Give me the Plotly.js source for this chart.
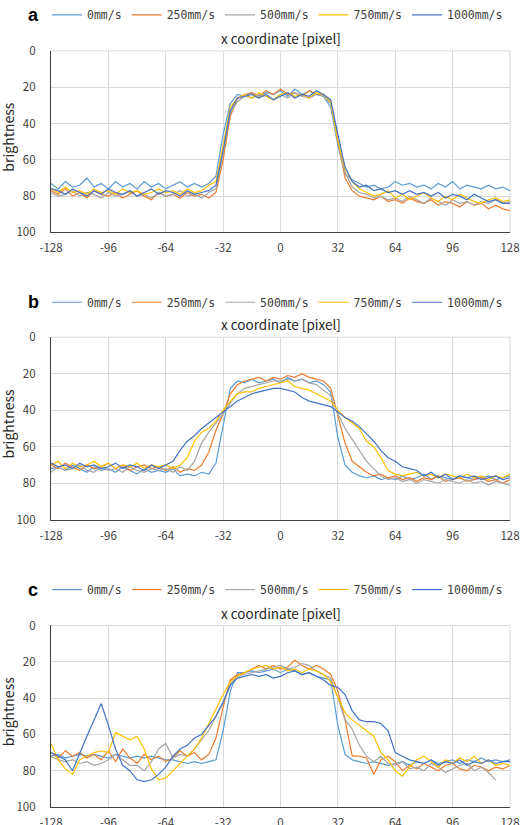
<!DOCTYPE html>
<html><head><meta charset="utf-8">
<script src="https://cdn.plot.ly/plotly-3.0.1.min.js"></script>
<style>html,body{margin:0;padding:0;background:#fff}#chart{width:520px;height:825px}</style>
</head><body><div id="chart"></div>
<script>
// x coordinate [pixel] (sampled every 4 px)
const xCoord = [
 -128,-124,-120,-116,-112,-108,-104,-100,-96,-92,-88,-84,-80,
 -76,-72,-68,-64,-60,-56,-52,-48,-44,-40,-36,-32,-28,
 -24,-20,-16,-12,-8,-4,0,4,8,12,16,20,24,
 28,32,36,40,44,48,52,56,60,64,68,72,76,
 80,84,88,92,96,100,104,108,112,116,120,124,128];

const seriesNames = ['0mm/s','250mm/s','500mm/s','750mm/s','1000mm/s'];
const seriesColors = ['#5B9BD5','#ED7D31','#A5A5A5','#FFC000','#4472C4'];
const panelLabels = ['a','b','c'];
const xTickVals = [-128,-96,-64,-32,0,32,64,96,128];
const yTickVals = [0,20,40,60,80,100];

// Panel a
const a0 = [73,76,72,75,74,70,75,73,76,72,75,73,76,
 72,75,73,76,74,72,75,73,75,73,69,46,29,
 24,25,23,25,23,24,22,25,21,24,22,24,25,
 31,52,68,71,73,75,74,76,75,72,74,73,75,
 74,76,73,75,72,76,74,75,76,74,76,75,77];
const a250 = [77,79,76,80,78,81,77,79,80,78,81,79,77,
 80,82,78,80,79,81,78,80,79,81,78,60,36,
 26,24,23,25,22,24,21,24,23,25,22,24,24,
 28,48,70,77,80,81,82,80,83,82,84,81,83,
 84,82,85,83,84,86,83,85,84,87,85,87,88];
const a500 = [78,80,79,77,80,78,79,81,78,80,79,77,80,
 79,81,78,80,79,77,80,79,81,78,76,56,34,
 28,25,26,24,25,27,24,26,23,25,26,24,25,
 29,50,67,75,78,79,81,80,82,81,83,80,82,
 84,81,83,85,82,84,83,85,83,84,82,84,83];
const a750 = [76,78,75,78,77,79,76,78,77,79,76,78,77,
 79,78,76,78,77,79,76,78,77,74,72,52,31,
 26,24,26,23,25,27,24,23,25,24,26,23,24,
 28,50,65,72,76,78,80,79,77,81,79,82,80,
 78,81,83,80,82,79,81,83,84,82,81,83,82];
const a1000 = [76,77,79,76,78,80,77,79,76,78,79,77,80,
 78,76,79,77,78,80,77,79,78,77,74,55,33,
 26,25,24,26,24,27,25,23,26,24,25,22,24,
 27,46,64,72,75,74,77,76,78,77,79,77,79,
 78,80,78,81,79,80,82,79,81,83,82,84,84];

// Panel b
const b0 = [72,71,73,70,72,74,71,73,72,74,71,73,75,
 72,74,73,74,72,76,75,76,74,75,69,48,28,
 24,25,23,25,24,23,25,22,24,23,25,24,26,
 30,55,70,74,76,77,76,78,77,78,76,78,77,
 75,78,76,77,78,76,77,78,77,76,78,77,76];
const b250 = [70,72,69,71,73,70,72,71,69,72,70,73,71,
 70,72,71,73,71,74,72,73,70,63,51,42,31,
 26,24,23,22,24,22,23,21,22,20,22,23,24,
 28,43,58,68,71,74,76,75,77,76,78,77,79,
 77,78,76,79,78,77,79,78,77,79,78,80,78];
const b500 = [74,71,73,72,70,73,74,71,73,72,74,71,73,
 74,72,73,72,74,71,73,68,58,52,47,42,36,
 31,28,27,26,25,24,24,23,24,23,25,26,29,
 32,42,50,56,62,68,72,76,78,77,79,78,80,
 78,79,80,78,79,80,78,80,79,81,79,80,81];
const b750 = [70,68,72,69,71,70,68,71,69,72,70,71,69,
 72,70,71,70,72,70,66,57,52,50,46,40,35,
 31,30,30,28,27,26,25,24,27,28,29,31,33,
 35,40,44,47,50,57,60,66,73,75,76,75,74,
 76,75,77,75,76,77,75,77,76,78,76,77,75];
const b1000 = [69,71,70,72,69,71,70,72,71,69,72,70,71,
 73,70,72,70,68,62,57,54,50,47,44,41,38,
 35,33,31,30,29,28,28,29,30,33,35,36,37,
 38,41,44,46,49,53,57,62,66,68,71,72,73,
 76,74,77,75,78,76,77,76,78,77,76,78,77];

// Panel c
const c0 = [72,71,73,72,71,72,71,72,73,71,72,73,72,
 73,72,73,74,74,75,76,75,76,75,74,58,36,
 26,26,25,26,25,24,26,24,25,27,26,28,29,
 30,55,71,74,75,76,75,76,77,76,75,77,75,
 76,74,76,75,74,76,74,75,73,75,74,75,74];
const c250 = [70,73,69,72,70,73,71,74,69,75,68,73,76,
 71,74,72,75,73,69,72,70,74,71,62,45,30,
 27,26,24,22,24,22,24,23,19,22,24,22,24,
 27,36,52,72,72,73,82,74,72,75,80,77,79,
 76,78,80,77,76,79,80,77,78,80,78,79,77];
const c500 = [72,74,75,74,76,75,77,76,74,71,74,77,77,
 80,75,68,65,73,71,72,68,63,58,50,43,32,
 28,27,26,25,24,23,22,24,23,21,22,25,27,
 29,40,52,57,66,72,75,72,76,77,75,79,78,
 80,76,78,81,79,77,76,80,78,81,85,null,null];
const c750 = [65,74,79,82,74,72,70,69,70,59,61,63,61,
 68,79,85,84,80,76,72,68,62,54,46,38,31,
 28,26,24,23,22,24,23,25,24,26,24,25,27,
 31,40,48,52,55,58,61,70,74,80,83,78,74,
 72,75,78,74,76,73,75,72,76,74,77,76,77];
const c1000 = [70,72,74,80,70,61,52,43,55,68,77,80,85,
 86,85,82,78,72,68,66,62,60,55,50,42,33,
 29,28,27,28,27,29,28,26,25,27,26,28,30,
 33,34,38,47,52,53,53,54,58,70,72,74,75,
 76,74,77,75,76,74,77,75,76,74,76,75,75];

const panels = [
  [a0, a250, a500, a750, a1000],
  [b0, b250, b500, b750, b1000],
  [c0, c250, c500, c750, c1000]
];

const W = 520, H = 825;
const plotLeft = 51, plotRight = 510;
const tops = [49, 336, 625], bottoms = [231, 519, 807];
const legendY = [13, 301, 589];
const titleY = [36, 323, 612];
const letterY = [13, 301, 589];

const tickFont = {family: '"Noto Sans CJK JP", "Noto Sans", sans-serif', size: 11.5, color: '#404040'};
const titleFont = {family: '"Noto Sans CJK JP", "Noto Sans", sans-serif', size: 13.5, color: '#262626'};
const legendFont = {family: '"DejaVu Sans Mono", monospace', size: 11.5, color: '#404040'};

const data = [];
const layout = {
  width: W, height: H,
  margin: {l: 0, r: 0, t: 0, b: 0},
  paper_bgcolor: '#ffffff', plot_bgcolor: '#ffffff',
  showlegend: true,
  annotations: [], shapes: []
};

panels.forEach((series, p) => {
  const sfx = p === 0 ? '' : String(p + 1);
  const legendId = 'legend' + sfx;
  series.forEach((vals, s) => {
    data.push({
      type: 'scatter', mode: 'lines',
      x: xCoord, y: vals,
      name: seriesNames[s],
      line: {color: seriesColors[s], width: 1.2},
      xaxis: 'x' + sfx, yaxis: 'y' + sfx,
      legend: legendId,
      hoverinfo: 'x+y+name'
    });
  });
  layout['xaxis' + sfx] = {
    domain: [plotLeft / W, plotRight / W],
    anchor: 'y' + sfx,
    range: [-128, 128],
    tickmode: 'array', tickvals: xTickVals, ticktext: xTickVals.map(String),
    showgrid: true, gridcolor: '#d9d9d9', gridwidth: 1,
    zeroline: false,
    showline: true, linecolor: '#404040', linewidth: 1.3,
    ticks: '', ticklabelstandoff: 5,
    tickfont: tickFont
  };
  layout['yaxis' + sfx] = {
    domain: [1 - bottoms[p] / H, 1 - tops[p] / H],
    anchor: 'x' + sfx,
    range: [100, 0],
    tickmode: 'array', tickvals: yTickVals,
    showgrid: true, gridcolor: '#d9d9d9', gridwidth: 1,
    zeroline: false,
    showline: true, linecolor: '#404040', linewidth: 1.3,
    ticks: '', ticklabelstandoff: 12,
    tickfont: tickFont
  };
  layout[legendId] = {
    orientation: 'h',
    x: 47 / W, xanchor: 'left',
    y: 1 - legendY[p] / H, yanchor: 'middle',
    itemwidth: 30,
    font: legendFont,
    bgcolor: 'rgba(0,0,0,0)',
    traceorder: 'normal'
  };
  // top and right light borders
  layout.shapes.push({type: 'line', xref: 'x' + sfx + ' domain', yref: 'y' + sfx + ' domain',
    x0: 0, x1: 1, y0: 1, y1: 1, line: {color: '#d9d9d9', width: 1}, layer: 'below'});
  layout.shapes.push({type: 'line', xref: 'x' + sfx + ' domain', yref: 'y' + sfx + ' domain',
    x0: 1, x1: 1, y0: 0, y1: 1, line: {color: '#d9d9d9', width: 1}, layer: 'below'});
  // panel letter
  layout.annotations.push({text: '<b>' + panelLabels[p] + '</b>', xref: 'paper', yref: 'paper',
    x: 33 / W, y: 1 - letterY[p] / H, xanchor: 'center', yanchor: 'middle', showarrow: false,
    font: {family: '"Liberation Sans", Arial, sans-serif', size: 18, color: '#000000'}});
  // x axis title (above the plot)
  layout.annotations.push({text: 'x coordinate [pixel]', xref: 'paper', yref: 'paper',
    x: (plotLeft + plotRight) / 2 / W, y: 1 - titleY[p] / H, xanchor: 'center', yanchor: 'middle',
    showarrow: false, font: titleFont});
  // y axis title
  layout.annotations.push({text: 'brightness', xref: 'paper', yref: 'paper',
    x: 8 / W, y: 1 - ((tops[p] + bottoms[p]) / 2 - 4) / H, xanchor: 'center', yanchor: 'middle',
    textangle: -90, showarrow: false, font: Object.assign({}, titleFont, {size: 14})});
});

Plotly.newPlot('chart', data, layout, {displayModeBar: false, staticPlot: false});
</script>
</body></html>
